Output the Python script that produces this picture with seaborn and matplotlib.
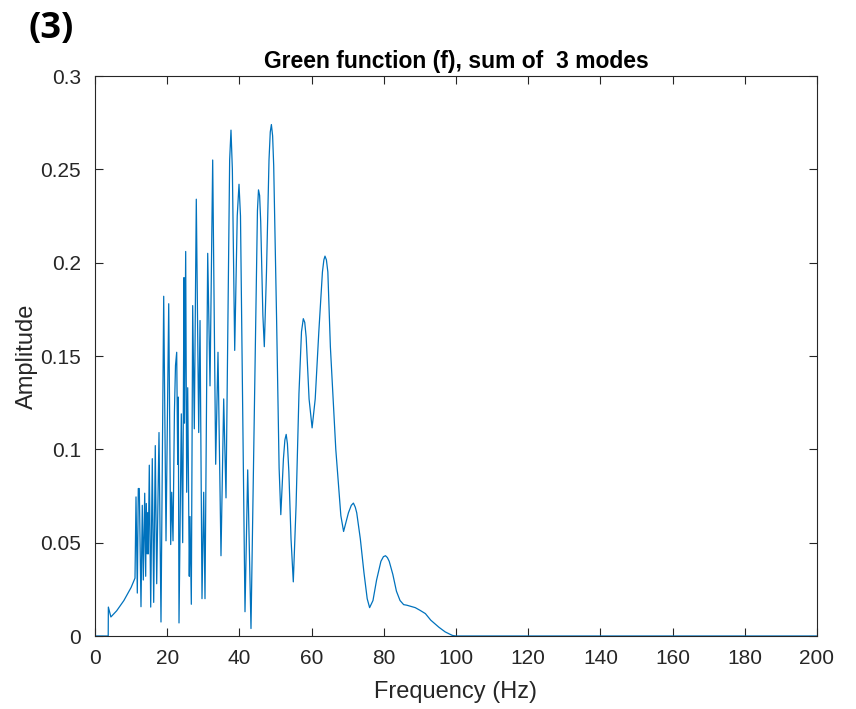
import matplotlib
matplotlib.use("Agg")
import matplotlib.pyplot as plt
import seaborn as sns
import numpy as np
import pandas as pd

# ---- data (frequency in Hz, amplitude) ----
freq = [0, 3.66, 3.70, 4.4, 6.0, 8.0, 10.0, 11.08,
        11.36, 11.72, 11.99, 12.27, 12.74, 13.10, 13.38, 13.77, 14.04, 14.21,
        14.45, 14.60, 14.76, 15.04, 15.43, 15.87, 16.26, 16.70, 17.09, 17.73,
        18.28, 19.03, 19.67, 20.42, 20.97, 21.25, 21.61, 22.0, 22.30, 22.63,
        22.91, 23.07, 23.27, 23.91, 24.29, 24.65, 24.79, 25.12, 25.40, 25.68,
        26.12, 26.32, 26.68, 27.06, 27.51, 28.06, 28.73, 29.09, 29.64, 30.11,
        30.47, 31.22, 31.86, 32.60, 33.43, 34.07, 34.90, 35.65, 36.29, 37.3,
        37.67, 38.05, 38.70, 39.4, 39.89, 40.3, 41.55, 42.30, 43.21, 44.3,
        44.8, 45.0, 45.29, 45.6, 45.9, 46.5, 46.90, 47.5, 48.2, 48.55, 48.86,
        49.2, 49.5, 50.3, 51.0, 51.47, 52.2, 52.6, 52.96, 53.3, 53.7, 54.3,
        54.93, 55.7, 56.5, 57.2, 57.70, 58.1, 58.5, 59.3, 60.14, 61.0, 62.0,
        63.0, 63.4, 63.71, 64.1, 64.5, 65.2, 66.7, 68.1, 68.86, 70.2, 71.0,
        71.58, 72.1, 72.5, 73.5, 74.5, 75.4, 76.07, 77.0, 78.0, 79.2, 79.9,
        80.47, 81.0, 81.5, 82.5, 83.5, 84.5, 85.5, 86.37, 88.70, 90.0, 91.52,
        93.0, 95.26, 97.0, 99.0, 100.0, 200.0]
amp = [0, 0, 0.0155, 0.0102, 0.0135, 0.019, 0.026, 0.031,
       0.0745, 0.023, 0.079, 0.079, 0.0157, 0.070, 0.030, 0.0765, 0.032, 0.071,
       0.044, 0.066, 0.044, 0.0915, 0.0155, 0.095, 0.018, 0.102, 0.028, 0.109,
       0.0075, 0.182, 0.051, 0.178, 0.049, 0.077, 0.051, 0.12, 0.145, 0.152,
       0.092, 0.128, 0.007, 0.119, 0.050, 0.192, 0.114, 0.206, 0.077, 0.133,
       0.032, 0.064, 0.017, 0.177, 0.111, 0.234, 0.109, 0.169, 0.020, 0.077,
       0.020, 0.205, 0.134, 0.255, 0.092, 0.152, 0.043, 0.127, 0.074, 0.255,
       0.271, 0.250, 0.153, 0.225, 0.242, 0.225, 0.013, 0.089, 0.004, 0.14,
       0.205, 0.228, 0.239, 0.236, 0.222, 0.172, 0.155, 0.195, 0.255, 0.270, 0.274,
       0.268, 0.252, 0.17, 0.09, 0.065, 0.095, 0.105, 0.108, 0.103, 0.088, 0.052,
       0.029, 0.07, 0.13, 0.163, 0.170, 0.168, 0.160, 0.127, 0.1115, 0.127, 0.163,
       0.195, 0.2015, 0.2035, 0.2015, 0.195, 0.155, 0.100, 0.0645, 0.056, 0.066, 0.070,
       0.0712, 0.069, 0.066, 0.052, 0.034, 0.020, 0.0152, 0.019, 0.030, 0.040, 0.0425,
       0.043, 0.042, 0.040, 0.033, 0.024, 0.019, 0.0168, 0.0165, 0.0152, 0.0138, 0.012,
       0.0085, 0.0047, 0.0022, 0.0003, 0.0, 0.0]

x_ticks = [0, 20, 40, 60, 80, 100, 120, 140, 160, 180, 200]
y_ticks = [0, 0.05, 0.1, 0.15, 0.2, 0.25, 0.3]
y_tick_labels = ["0", "0.05", "0.1", "0.15", "0.2", "0.25", "0.3"]

title = "Green function (f), sum of  3 modes"
panel_label = "(3)"

sns.set_theme(style="white")
plt.rcParams["font.family"] = ["Liberation Sans", "DejaVu Sans"]

df = pd.DataFrame({"Frequency": freq, "Amplitude": amp})

fig = plt.figure(figsize=(8.56, 7.09), dpi=100)
ax = fig.add_axes([95 / 856, 1 - 636 / 709, (817 - 95) / 856, (636 - 76) / 709])

sns.lineplot(data=df, x="Frequency", y="Amplitude", ax=ax, color="#0072BD",
             linewidth=0.9, sort=False, estimator=None)

ax.set_xlim(0, 200)
ax.set_ylim(0, 0.3)
ax.set_xticks(x_ticks)
ax.set_xticklabels([str(t) for t in x_ticks])
ax.set_yticks(y_ticks)
ax.set_yticklabels(y_tick_labels)

axcol = "#262626"
for s in ax.spines.values():
    s.set_visible(True)
    s.set_color(axcol)
    s.set_linewidth(0.8)
ax.tick_params(direction="in", length=6, width=0.8, color=axcol, labelcolor=axcol,
               labelsize=15, top=True, right=True, bottom=True, left=True)
ax.tick_params(axis="y", pad=10)
ax.tick_params(axis="x", pad=9)

ax.set_xlabel("Frequency (Hz)", fontsize=17, color=axcol, labelpad=10)
ax.set_ylabel("Amplitude", fontsize=17, color=axcol, labelpad=2)
ax.set_title(title, fontsize=16.5, fontweight="bold", color="#000000", pad=6)

fig.text(29 / 856, 1 - 29 / 709, panel_label, fontsize=26, fontweight="bold",
         family=["Open Sans", "DejaVu Sans"], ha="left", va="center", color="black")

fig.savefig("out.png", dpi=100)
